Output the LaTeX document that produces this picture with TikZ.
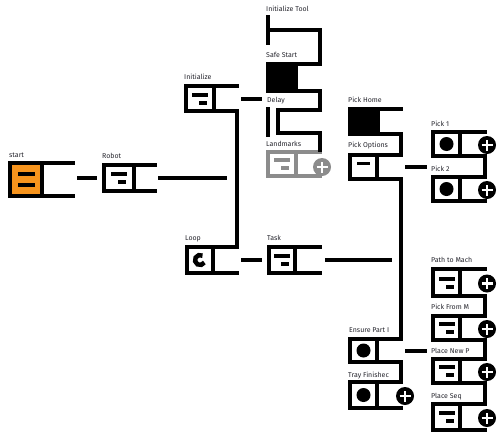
\documentclass[tikz,border=0pt]{standalone}
\usepackage{fontspec}
\setmainfont{Fira Sans}
\usetikzlibrary{calc}
\definecolor{orng}{HTML}{F7941D}
\definecolor{lmgray}{HTML}{8C8C8C}
\definecolor{lbltext}{HTML}{26262E}
\tikzset{
  sq/.style={draw, line width=4pt, fill=white, inner sep=0pt, outer sep=0pt, rectangle},
  arm/.style={line width=4pt, line cap=butt},
  lbl/.style={anchor=base west, inner sep=0pt, font=\fontsize{7}{8}\selectfont, text=lbltext},
  plus/.style={circle, fill=black, minimum size=18pt, inner sep=0pt, outer sep=0pt,
    path picture={\draw[white,line width=2.6pt]
      ([xshift=-5.5pt]path picture bounding box.center) -- ([xshift=5.5pt]path picture bounding box.center)
      ([yshift=-5.5pt]path picture bounding box.center) -- ([yshift=5.5pt]path picture bounding box.center);}},
}
\newcommand\Blk[7][]{%
  \pgfmathsetmacro\bw{#5-4}\pgfmathsetmacro\bh{#6-4}%
  \pgfmathsetmacro\bx{#3+#5/2}\pgfmathsetmacro\by{#4+#6/2}%
  \pgfmathsetmacro\al{#7-#3-#5+2}%
  \node[sq,minimum width=\bw pt,minimum height=\bh pt,#1] (#2) at (\bx,\by) {};
  \draw[arm] (#2.north east) -- ++(\al,0) coordinate (#2-te);
  \draw[arm] (#2.south east) -- ++(\al,0) coordinate (#2-be);
}
\newcommand\TIcon[1]{%
  \fill ([shift={(-8,-6)}]#1.center) rectangle ++(16,4);
  \fill ([shift={(-1,2)}]#1.center) rectangle ++(8,4);
}
\begin{document}
\begin{tikzpicture}[x=1pt,y=-1pt]
\fill[white] (0,0) rectangle (500,442);
\useasboundingbox (0,0) rectangle (500,442);

% ---- blocks ----
\Blk[fill=orng]{start}{8}{161}{36}{37}{75}
\fill ([shift={(-8.5,-7.5)}]start.center) rectangle ++(17,4);
\fill ([shift={(-8.5,3)}]start.center) rectangle ++(17,4);

\Blk{robot}{102}{163}{34}{30}{157}
\TIcon{robot}
\Blk{init}{184}{84}{32}{29}{239}
\TIcon{init}
\Blk{loop}{185}{245}{30}{30}{239}
\draw[line width=4.5pt] ($(loop.center)+(60:5pt)$) arc[start angle=60, end angle=330, radius=5pt];
\Blk{task}{267}{245}{30}{30}{322}
\TIcon{task}

% Initialize Tool (partial)
\coordinate (itool-a) at (268,15);
\draw[arm] (itool-a) -- (268,45);
\draw[arm] (266,30) -- (322,30) coordinate (itool-be);

\Blk[fill=black]{safe}{266}{62}{32}{31}{322}

% Delay (partial)
\draw[arm] (268,107) -- (268,137);
\draw[arm,line join=miter] (322,110) coordinate (delay-te) -- (278,110) -- (278,133) -- (322,133) coordinate (delay-be);

\begin{scope}[color=lmgray]
\Blk{land}{266}{150}{32}{28}{322}
\TIcon{land}
\node[plus,fill=lmgray] (land-p) at ([yshift=-3pt]land-te |- land.center) {};
\end{scope}

\Blk[fill=black]{phome}{348}{107}{32}{29}{403}
\Blk{popt}{348}{153}{31}{28}{403}
\fill ([shift={(-6.5,-5.5)}]popt.center) rectangle ++(13,3.5);

\Blk{pick1}{431}{130}{31}{28}{487}
\fill (pick1.center) circle (7pt);
\node[plus] (pick1-p) at ([yshift=-1pt]pick1-te |- pick1.center) {};
\Blk{pick2}{431}{175}{31}{28}{487}
\fill (pick2.center) circle (7pt);
\node[plus] (pick2-p) at ([yshift=-1pt]pick2-te |- pick2.center) {};

\Blk{ensure}{348}{337}{31}{27}{403}
\fill (ensure.center) circle (7pt);
\Blk{tray}{348}{380}{31}{30}{403}
\fill (tray.center) circle (7pt);
\node[plus] (tray-p) at ([shift={(2pt,-1pt)}]tray-te |- tray.center) {};

\Blk{path}{431}{267}{31}{31}{487}
\TIcon{path}
\node[plus] (path-p) at ([yshift=-1pt]path-te |- path.center) {};
\Blk{pfrom}{431}{314}{31}{28}{487}
\TIcon{pfrom}
\node[plus] (pfrom-p) at ([yshift=-1pt]pfrom-te |- pfrom.center) {};
\Blk{pnew}{431}{357}{31}{28}{487}
\TIcon{pnew}
\node[plus] (pnew-p) at ([yshift=-1pt]pnew-te |- pnew.center) {};
\Blk{pseq}{431}{402}{31}{30}{487}
\TIcon{pseq}
\node[plus] (pseq-p) at ([yshift=-1pt]pseq-te |- pseq.center) {};

% ---- stack connectors ----
\draw[arm] ([xshift=-2pt]init-be) -- ([xshift=-2pt]loop-te);
\draw[arm] ([xshift=-2pt]itool-be) -- ([xshift=-2pt]safe-te);
\draw[arm] ([xshift=-2pt]safe-be) -- ([xshift=-2pt]delay-te);
\draw[arm] ([xshift=-2pt]delay-be) -- ([xshift=-2pt]land-te);
\draw[arm] ([xshift=-2pt]phome-be) -- ([xshift=-2pt]popt-te);
\draw[arm] ([xshift=-2pt]popt-be) -- ([xshift=-2pt]ensure-te);
\draw[arm] ([xshift=-2pt]ensure-be) -- ([xshift=-2pt]tray-te);
\draw[arm] ([xshift=-2pt]pick1-be) -- ([xshift=-2pt]pick2-te);
\draw[arm] ([xshift=-2pt]path-be) -- ([xshift=-2pt]pfrom-te);
\draw[arm] ([xshift=-2pt]pfrom-be) -- ([xshift=-2pt]pnew-te);
\draw[arm] ([xshift=-2pt]pnew-be) -- ([xshift=-2pt]pseq-te);

% ---- child stubs ----
\coordinate (delay-in) at (262,99);
\draw[arm] ([xshift=2pt]start-te |- robot.center) -- ([xshift=-7pt]robot.west);
\draw[arm] ([xshift=1pt]robot-te |- robot.center) -- ++(69,0) coordinate (robot-out);
\draw[arm] ([xshift=2pt]init-te |- delay-in) -- (delay-in);
\draw[arm] ([xshift=2pt]loop-te |- loop.center) -- ([xshift=-7pt]task.west |- loop.center);
\draw[arm] ([xshift=3pt]task-te |- task.center) -- ++(67,0) coordinate (task-out);
\draw[arm] ([xshift=2pt]popt-te |- popt.center) -- ([xshift=-6pt]pick2.west |- popt.center);
\draw[arm] ([xshift=2pt]ensure-te |- ensure.center) -- ([xshift=-6pt]pnew.west |- ensure.center);

% ---- labels ----
\node[lbl] (l-start) at (9,157) {start};
\node[lbl] (l-robot) at (102,158) {Robot};
\node[lbl] (l-init) at (184,79) {Initialize};
\node[lbl] (l-itool) at (266,11) {Initialize Tool};
\node[lbl] (l-safe) at (266,57) {Safe Start};
\node[lbl] (l-delay) at (267,102) {Delay};
\node[lbl] (l-land) at (266,146) {Landmarks};
\node[lbl] (l-loop) at (185,240) {Loop};
\node[lbl] (l-task) at (267,240) {Task};
\node[lbl] (l-phome) at (348,102) {Pick Home};
\node[lbl] (l-popt) at (348,147) {Pick Options};
\node[lbl] (l-pick1) at (431,126) {Pick 1};
\node[lbl] (l-pick2) at (431,171) {Pick 2};
\node[lbl] (l-path) at (431,262) {Path to Mach};
\node[lbl] (l-pfrom) at (431,309) {Pick From M};
\node[lbl] (l-ensure) at (349,332) {Ensure Part I};
\node[lbl] (l-pnew) at (431,353) {Place New P};
\node[lbl] (l-tray) at (348,377) {Tray Finishec};
\node[lbl] (l-pseq) at (431,398) {Place Seq};
\end{tikzpicture}
\end{document}
